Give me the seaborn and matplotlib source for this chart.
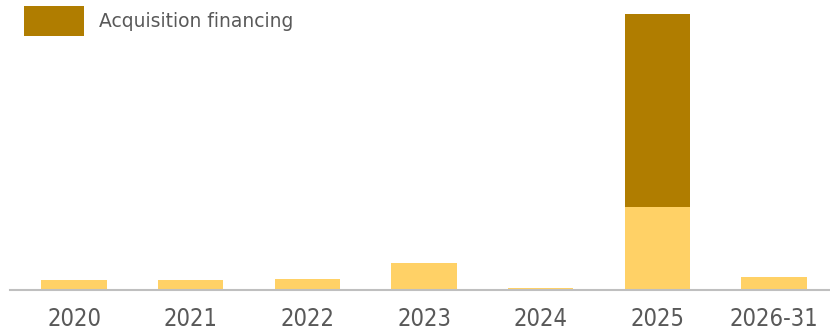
import matplotlib
matplotlib.use("Agg")
import matplotlib.pyplot as plt
from matplotlib import font_manager
import seaborn as sns
import pandas as pd
from matplotlib.patches import Patch

categories = ["2020", "2021", "2022", "2023", "2024", "2025", "2026-31"]
base_values = [1.0, 1.0, 1.1, 2.7, 0.15, 8.3, 1.25]
acquisition_values = [0, 0, 0, 0, 0, 19.2, 0]

LIGHT = "#FFD166"
DARK = "#B07D00"
TEXT = "#595959"

sns.set_theme(style="white")
plt.rcParams["font.family"] = ["DejaVu Sans"]

narrow_ok = True
try:
    font_manager.findfont(font_manager.FontProperties(family="Liberation Sans Narrow"),
                          fallback_to_default=False)
except Exception:
    narrow_ok = False

df = pd.DataFrame({
    "period": categories,
    "base": base_values,
    "total": [b + a for b, a in zip(base_values, acquisition_values)],
})

fig = plt.figure(figsize=(8.3, 3.3), dpi=100)
ax = fig.add_axes([10 / 830, 40 / 330, 820 / 830, 290 / 330])

sns.barplot(data=df, x="period", y="total", color=DARK, saturation=1,
            width=0.56, ax=ax, linewidth=0)
sns.barplot(data=df, x="period", y="base", color=LIGHT, saturation=1,
            width=0.56, ax=ax, linewidth=0)

ax.set_xlim(-0.549, 6.48)
ax.set_ylim(0, 27.5 * 290 / 276)
ax.set_xlabel("")
ax.set_ylabel("")
ax.set_yticks([])
for s in ["top", "right", "left"]:
    ax.spines[s].set_visible(False)
ax.spines["bottom"].set_color("#BFBFBF")
ax.spines["bottom"].set_linewidth(1.5)
ax.tick_params(axis="x", length=0, pad=12.5, labelcolor=TEXT)
for lab in ax.get_xticklabels():
    if narrow_ok:
        lab.set_family(["Liberation Sans Narrow", "DejaVu Sans"])
        lab.set_fontsize(19.5)
    else:
        lab.set_family(["DejaVu Sans"])
        lab.set_fontstretch("condensed")
        lab.set_fontsize(17)

leg = fig.legend(handles=[Patch(facecolor=DARK, edgecolor="none", label="Acquisition financing")],
                 loc="upper left", bbox_to_anchor=(24 / 830, 1 - 6 / 330),
                 frameon=False, handlelength=3.2, handleheight=2.07,
                 handletextpad=0.8, borderaxespad=0, borderpad=0, labelcolor=TEXT,
                 prop={"family": ["DejaVu Sans"], "size": 13.5})

fig.savefig("out.png", dpi=100)
